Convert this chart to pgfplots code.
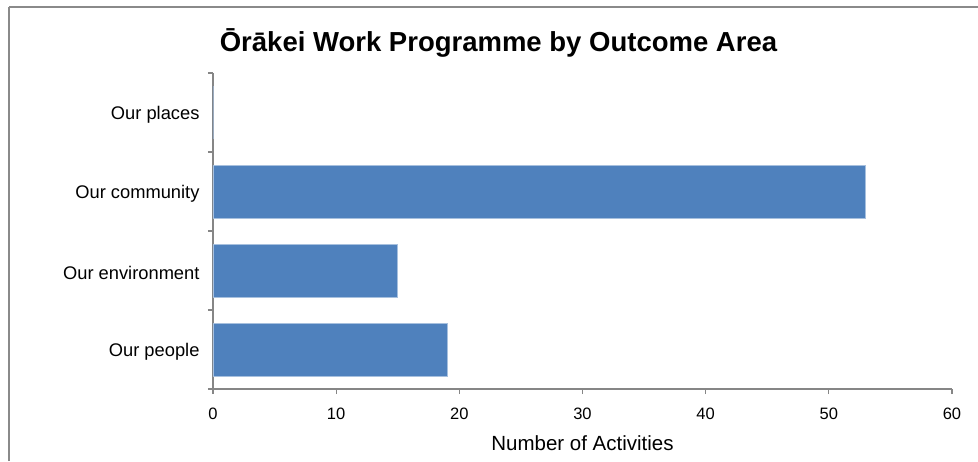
\documentclass[border=0pt]{standalone}
\usepackage{fontspec}
\setmainfont{Liberation Sans}
\usepackage{pgfplots}
\pgfplotsset{compat=1.18}
\definecolor{barblue}{HTML}{4F81BD}
\definecolor{baredge}{HTML}{A7C0DE}
\definecolor{axisgray}{HTML}{868686}
\definecolor{framegray}{HTML}{8A8A8A}

\begin{document}
\begin{tikzpicture}
    \useasboundingbox (0pt,0pt) rectangle (978pt,461pt);
    % outer frame (top and left edges visible)
    \draw[framegray, line width=2pt] (9pt,454pt) -- (978pt,454pt);
    \draw[framegray, line width=2pt] (9pt,0pt) -- (9pt,454pt);

    \node[font=\bfseries\fontsize{27.5}{30}\selectfont, anchor=base] at (498.5pt,409pt)
        {Ōrākei Work Programme by Outcome Area};

    \begin{axis}[
        at={(213pt,72pt)}, anchor=south west,
        scale only axis, width=739pt, height=316pt,
        xbar, bar width=0.67,
        xmin=0, xmax=60, ymin=-0.5, ymax=3.5,
        enlargelimits=false,
        xtick={0,10,...,60},
        ytick={0,1,2,3},
        yticklabels={Our people, Our environment, Our community, Our places},
        minor ytick={-0.5,0.5,1.5,2.5,3.5},
        axis lines*=left,
        axis line style={axisgray, line width=1.3pt},
        tick align=outside,
        major tick length=5pt,
        minor tick length=5pt,
        tick style={axisgray, line width=1.3pt},
        major y tick style={draw=none},
        /pgf/number format/assume math mode=true,
        xticklabel style={font=\fontsize{16.5}{18}\selectfont, yshift=-10pt},
        yticklabel style={font=\fontsize{18.3}{20}\selectfont, xshift=-5pt, yshift=-2pt},
        xlabel={Number of Activities},
        xlabel style={font=\fontsize{20.5}{22}\selectfont, yshift=-10pt},
    ]
    \addplot[fill=barblue, draw=baredge, line width=0.8pt]
        coordinates {(19,0) (15,1) (53,2) (0,3)};
    \end{axis}
\end{tikzpicture}
\end{document}
